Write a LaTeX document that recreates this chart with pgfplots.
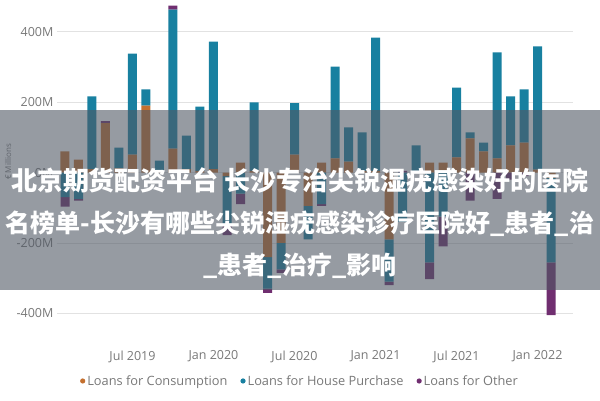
\documentclass[border=0pt]{standalone}
\usepackage{pgfplots}
\usepackage{pgfplotstable}
\pgfplotsset{compat=1.18}
\usepackage{fontspec}
\setmainfont{Open Sans}
\newfontfamily\cjk{Noto Sans CJK SC}
\definecolor{cC}{RGB}{196,112,47}
\definecolor{cH}{RGB}{24,128,160}
\definecolor{cO}{RGB}{112,46,112}
\definecolor{ticktext}{RGB}{120,120,120}
\definecolor{banner}{RGB}{80,88,100}

\pgfplotstableread{
i cp hp op
0 60 0 0
1 37 0 0
2 10 206 0
3 140 0 6
4 12 59 0
5 51 287 0
6 190 46 0
7 3 31 0
8 68 395 11
9 10 95 0
10 5 182 0
11 10 362 0
12 0 0 0
13 28 0 0
14 5 194 0
15 0 0 0
16 0 0 0
17 51 146 0
18 0 0 0
19 28 0 0
20 40 261 0
21 31 97 0
22 5 109 0
23 5 378 0
24 0 0 0
25 0 0 5
26 3 74 0
27 28 0 0
28 28 0 0
29 43 198 0
30 97 17 0
31 60 25 0
32 40 301 0
33 77 139 0
34 85 151 0
35 8 350 0
36 0 0 0
}\posdata

\pgfplotstableread{
i cn hn on
0 0 -70 -27
1 0 -75 -5
2 0 0 0
3 0 0 0
4 0 0 0
5 0 0 0
6 0 0 0
7 0 0 0
8 0 0 0
9 0 0 0
10 0 0 0
11 0 0 0
12 -10 -140 -28
13 0 -60 -30
14 0 0 0
15 -240 -90 -12
16 -200 -75 -10
17 0 0 0
18 -95 -95 0
19 0 -90 -5
20 0 0 0
21 0 0 0
22 0 0 0
23 0 0 0
24 -190 -120 -10
25 0 -140 0
26 0 0 0
27 0 -255 -48
28 0 -125 -85
29 0 0 0
30 0 0 -80
31 0 0 0
32 0 0 -75
33 0 0 -20
34 0 0 -10
35 0 0 0
36 -15 -240 -150
}\negdata

\begin{document}
\begin{tikzpicture}[x=1pt,y=1pt]
\path[use as bounding box] (0,0) rectangle (600,400);
\pgfplotsset{common/.style={scale only axis, width=515.7pt, height=331pt,
  at={(56.9pt,400pt)}, anchor=north west,
  xmin=-0.6, xmax=37.6, ymin=-450, ymax=490,
  ybar stacked, bar width=9pt}}
\begin{axis}[common,
  axis line style={draw=none}, tick style={draw=none},
  ymajorgrids, grid style={draw={rgb,255:red,226;green,226;blue,226}, line width=0.7pt},
  xtick={5,11,17,23,29,35},
  xticklabels={Jul 2019,Jan 2020,Jul 2020,Jan 2021,Jul 2021,Jan 2022},
  ytick={-400,-200,0,200,400},
  yticklabels={-400M,-200M,0M,200M,400M},
  tick label style={font=\fontsize{12.5}{14}\selectfont, text=ticktext},
  xticklabel style={yshift=-16pt},
  legend image code/.code={\fill[#1] (2pt,0pt) circle (2.6pt);},
  legend style={at={(0.4714,-0.151)}, anchor=center, legend columns=3,
    draw=none, fill=none, font=\fontsize{12.8}{14}\selectfont, text=ticktext,
    /tikz/every even column/.append style={column sep=11pt}},
]
\addplot[fill=cC, draw=none, forget plot] table[x=i,y=cp]{\posdata};
\addplot[fill=cH, draw=none, forget plot] table[x=i,y=hp]{\posdata};
\addplot[fill=cO, draw=none, forget plot] table[x=i,y=op]{\posdata};
\addlegendimage{fill=cC, draw=none}
\addlegendentry{Loans for Consumption}
\addlegendimage{fill=cH, draw=none}
\addlegendentry{Loans for House Purchase}
\addlegendimage{fill=cO, draw=none}
\addlegendentry{Loans for Other}
\end{axis}
\begin{axis}[common, hide axis]
\addplot[fill=cC, draw=none] table[x=i,y=cn]{\negdata};
\addplot[fill=cH, draw=none] table[x=i,y=hn]{\negdata};
\addplot[fill=cO, draw=none] table[x=i,y=on]{\negdata};
\end{axis}
\node[rotate=90, font=\fontsize{8}{9}\selectfont, text=ticktext] at (8,238) {€ Millions};
\fill[banner, fill opacity=0.6] (0,110) rectangle (600,290);
\node[anchor=base, text=white, inner sep=0, font=\cjk\bfseries\fontsize{26}{26}\selectfont] at (300,209.5) {北京期货配资平台\hspace{6pt}长沙专治尖锐湿疣感染好的医院};
\node[anchor=base, text=white, inner sep=0, font=\cjk\bfseries\fontsize{25}{25}\selectfont] at (300,167.5) {名榜单-长沙有哪些尖锐湿疣感染诊疗医院好\_患者\_治};
\node[anchor=base, text=white, inner sep=0, font=\cjk\bfseries\fontsize{25}{25}\selectfont] at (300,125.5) {\_患者\_治疗\_影响};
\end{tikzpicture}
\end{document}
